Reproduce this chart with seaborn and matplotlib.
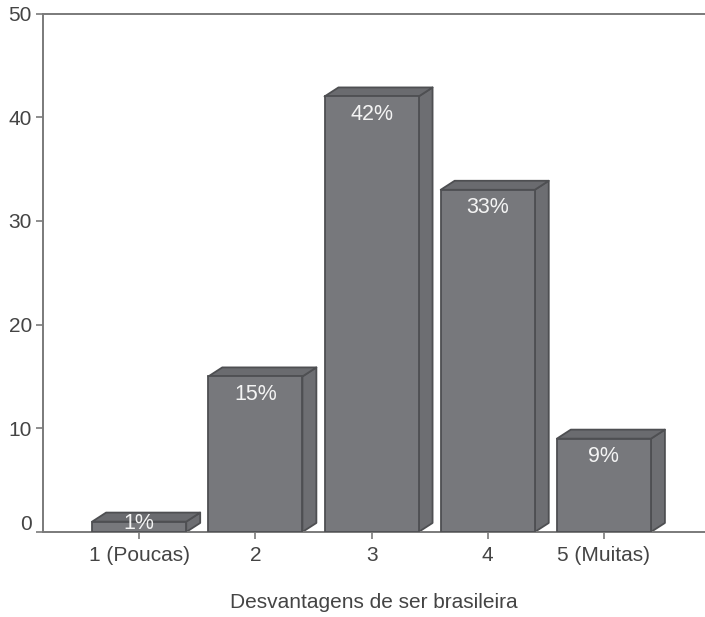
import matplotlib
matplotlib.use("Agg")
import matplotlib.pyplot as plt
import matplotlib.transforms as mtransforms
import seaborn as sns
import pandas as pd

categories = ["1 (Poucas)", "2", "3", "4", "5 (Muitas)"]
values = [1, 15, 42, 33, 9]
labels = ["1%", "15%", "42%", "33%", "9%"]
y_ticks = [0, 10, 20, 30, 40, 50]
x_title = "Desvantagens de ser brasileira"

sns.set_theme(style="white")
plt.rcParams["font.family"] = ["Liberation Sans", "DejaVu Sans"]

front = "#77787c"
side = "#6d6e72"
top = "#6a6b6f"
edge = "#4e4f52"
axis_col = "#7a7a7a"
text_col = "#444444"

fig = plt.figure(figsize=(7.05, 6.17), dpi=100)
ax = fig.add_axes([0.061, 0.1378, 0.939, 0.8403])

df = pd.DataFrame({"cat": categories, "val": values})
bar_w = 0.81
sns.barplot(data=df, x="cat", y="val", color=front, saturation=1, width=bar_w,
            edgecolor=edge, linewidth=1.3, ax=ax, zorder=3)

# extruded depth of each bar (side and top faces)
dx, dy = 0.12, 0.87
for i, v in enumerate(values):
    x0 = i - bar_w / 2
    x1 = i + bar_w / 2
    ax.fill([x1, x1 + dx, x1 + dx, x1], [0, dy, v + dy, v],
            facecolor=side, edgecolor=edge, linewidth=1.3, zorder=2,
            joinstyle="round")
    ax.fill([x0, x0 + dx, x1 + dx, x1], [v, v + dy, v + dy, v],
            facecolor=top, edgecolor=edge, linewidth=1.3, zorder=2,
            joinstyle="round")
    ax.text(i, max(v - 1.75, 0.8), labels[i], ha="center", va="center",
            color="#f4f4f4", fontsize=15.5, zorder=5)

ax.set_xlim(-0.828, 4.87)
ax.set_ylim(0, 50)
ax.set_yticks(y_ticks)
ax.set_yticklabels([str(t) for t in y_ticks])
ax.set_xlabel(x_title, fontsize=15, color=text_col, labelpad=20)
ax.set_ylabel("")

for s in ["left", "top", "bottom"]:
    ax.spines[s].set_visible(True)
    ax.spines[s].set_color(axis_col)
    ax.spines[s].set_linewidth(1.4)
ax.spines["right"].set_visible(False)

ax.tick_params(axis="both", which="major", length=5, width=1.2, color=axis_col,
               labelsize=15, labelcolor=text_col, direction="out",
               bottom=True, left=True)
ax.tick_params(axis="y", pad=3)
ax.tick_params(axis="x", pad=5)

# lift the zero label slightly above the baseline
zero_lbl = ax.get_yticklabels()[0]
zero_lbl.set_transform(zero_lbl.get_transform() +
                       mtransforms.ScaledTranslation(0, 6.5 / 72, fig.dpi_scale_trans))

fig.savefig("out.png", dpi=100, facecolor="white")
